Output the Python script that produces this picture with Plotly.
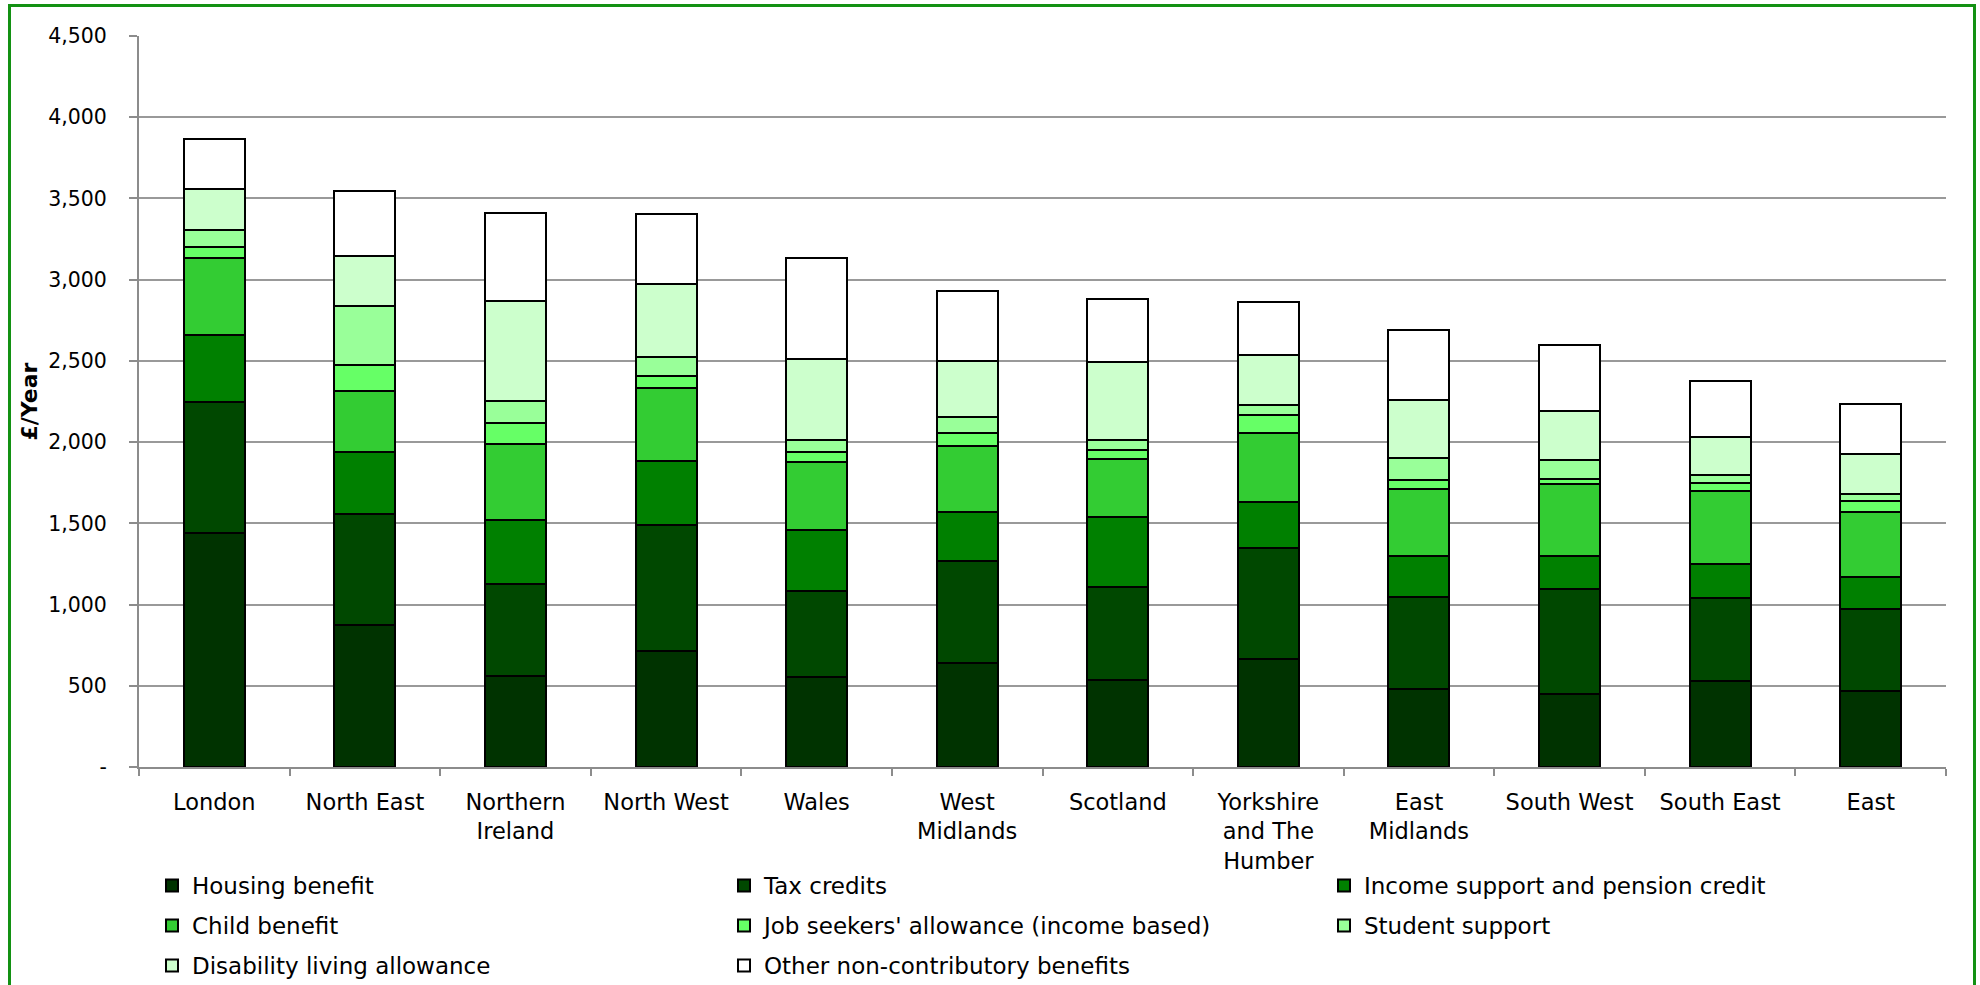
import plotly.graph_objects as go

# Regions (x categories)
regions = ["London", "North East", "Northern<br>Ireland", "North West", "Wales",
           "West<br>Midlands", "Scotland", "Yorkshire<br>and The<br>Humber",
           "East<br>Midlands", "South West", "South East", "East"]

# Benefit components, £ per year
housing_benefit = [1443, 872, 561, 714, 552, 643, 533, 667, 480, 447, 528, 466]
tax_credits = [803, 684, 568, 778, 530, 623, 575, 681, 569, 649, 511, 505]
income_support = [414, 384, 389, 391, 375, 301, 429, 281, 250, 203, 213, 199]
child_benefit = [474, 375, 469, 448, 419, 411, 358, 429, 415, 446, 450, 400]
jobseekers = [70, 161, 130, 78, 61, 80, 59, 110, 51, 26, 45, 66]
student_support = [99, 363, 134, 118, 78, 96, 61, 62, 136, 117, 51, 47]
disability_living = [254, 306, 620, 448, 498, 344, 481, 308, 357, 306, 232, 244]
other_benefits = [308, 402, 540, 429, 622, 434, 382, 326, 435, 405, 345, 310]

series_names = ["Housing benefit", "Tax credits", "Income support and pension credit",
                "Child benefit", "Job seekers' allowance (income based)", "Student support",
                "Disability living allowance", "Other non-contributory benefits"]
series_values = [housing_benefit, tax_credits, income_support, child_benefit,
                 jobseekers, student_support, disability_living, other_benefits]
series_colors = ["#003300", "#004800", "#008000", "#33CC33",
                 "#66FF66", "#99FF99", "#CCFFCC", "#FFFFFF"]

y_ticks = [0, 500, 1000, 1500, 2000, 2500, 3000, 3500, 4000, 4500]
y_tick_text = ["-"] + [f"{v:,}" for v in y_ticks[1:]]

FONT = "DejaVu Sans"

W, H = 1980, 985
L, R, T, B = 139, 34, 36, 218
pw, ph = W - L - R, H - T - B

def px_x(x):
    return (x - L) / pw

def px_y(y):
    return (H - B - y) / ph

# legend grid: three columns, three rows (pixel positions of each entry)
legend_cols = [152, 724, 1324]
legend_rows = [864, 904, 944]

fig = go.Figure()
legend_layouts = {}
for i, (name, vals, col) in enumerate(zip(series_names, series_values, series_colors)):
    key = "legend" if i == 0 else f"legend{i + 1}"
    fig.add_trace(go.Bar(
        x=regions, y=vals, name=name, legend=key, showlegend=True,
        marker=dict(color=col, line=dict(color="black", width=2)),
        width=0.405,
    ))
    legend_layouts[key] = dict(
        orientation="h",
        x=px_x(legend_cols[i % 3]), y=px_y(legend_rows[i // 3]),
        xanchor="left", yanchor="top",
        font=dict(size=23, family=FONT), bgcolor="rgba(0,0,0,0)",
        itemwidth=30,
    )

fig.update_layout(
    width=W, height=H,
    template="none",
    barmode="stack",
    showlegend=True,
    paper_bgcolor="white", plot_bgcolor="white",
    margin=dict(l=L, r=R, t=T, b=B, autoexpand=False),
    font=dict(family=FONT, size=20, color="black"),
    xaxis=dict(
        showgrid=False, showline=True, linecolor="#8c8c8c", linewidth=2,
        ticks="outside", tickson="boundaries", ticklen=7, tickcolor="#8c8c8c", tickwidth=2,
        tickfont=dict(size=22.5, family=FONT), ticklabelstandoff=14,
        automargin=False, zeroline=False,
    ),
    yaxis=dict(
        range=[0, 4500], tickvals=y_ticks, ticktext=y_tick_text,
        showgrid=True, gridcolor="#999999", gridwidth=2,
        showline=True, linecolor="#8c8c8c", linewidth=2,
        ticks="outside", ticklen=8, tickcolor="#8c8c8c", tickwidth=2,
        tickfont=dict(size=20.5, family=FONT), ticklabelstandoff=18,
        automargin=False, zeroline=False,
    ),
    annotations=[dict(
        text="<b>£/Year</b>", xref="paper", yref="paper",
        x=px_x(29), y=0.5, xanchor="center", yanchor="middle",
        textangle=-90, showarrow=False, font=dict(size=22, family=FONT),
    )],
    shapes=[dict(
        type="rect", xref="paper", yref="paper",
        x0=px_x(9.5), x1=px_x(1974.5), y0=px_y(1000), y1=px_y(5.5),
        line=dict(color="#139113", width=3), fillcolor="rgba(0,0,0,0)", layer="above",
    )],
)
fig.update_layout(**legend_layouts)

fig.write_html("out.html")
